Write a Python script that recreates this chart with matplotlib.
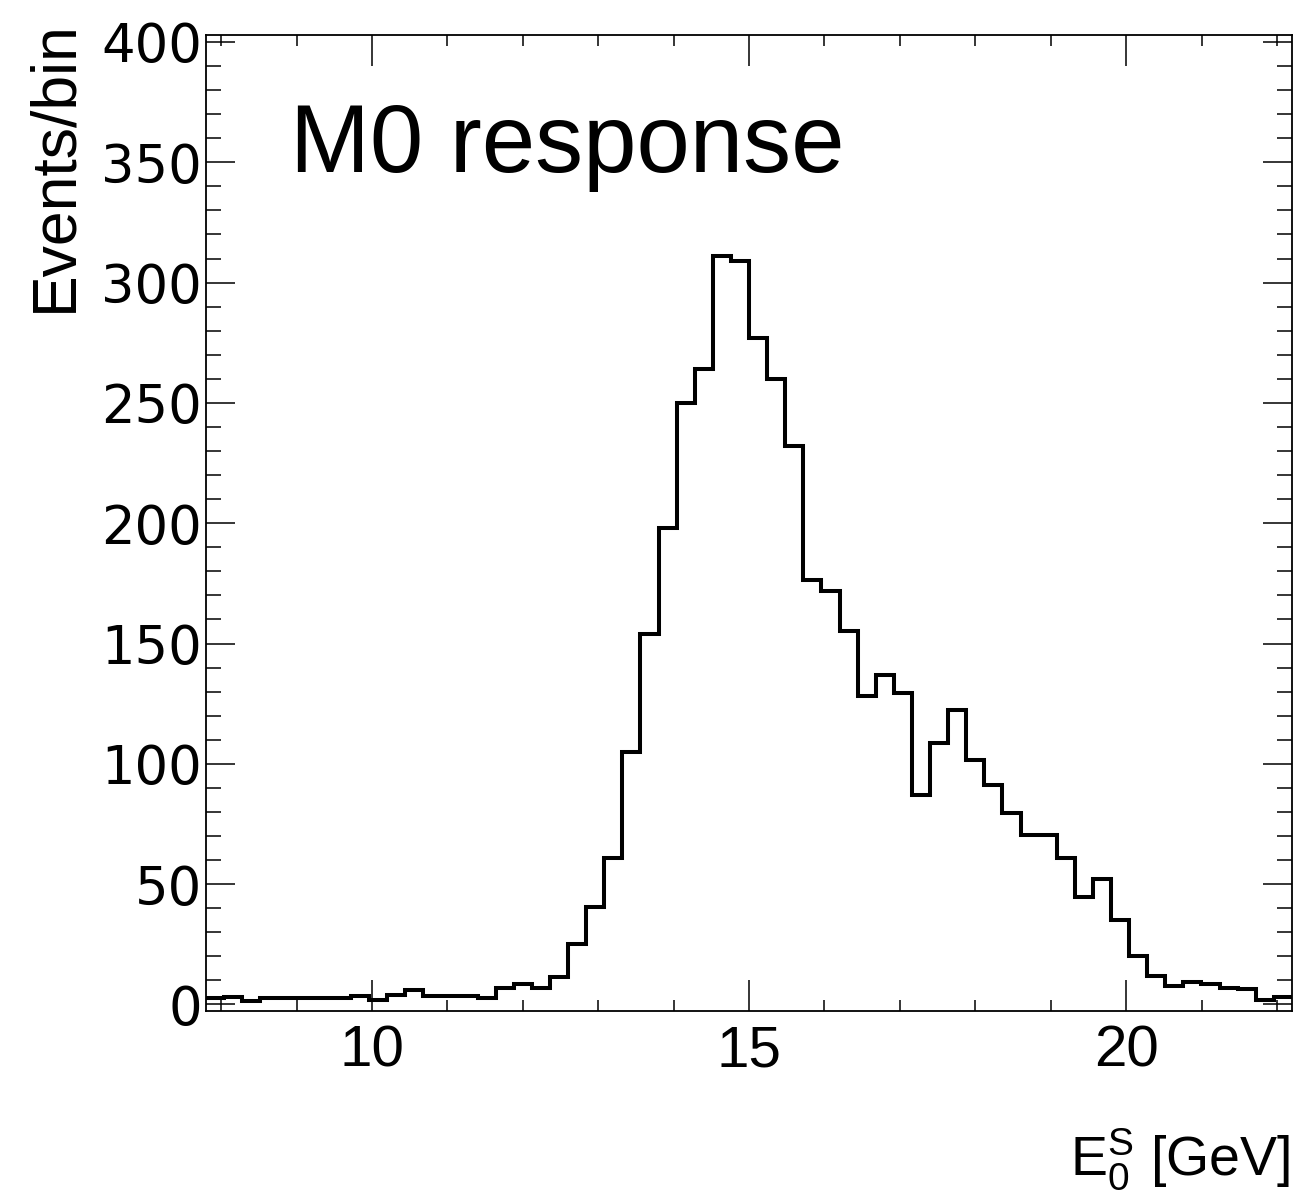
import numpy as np
import matplotlib
matplotlib.use("Agg")
import matplotlib.pyplot as plt
from matplotlib.ticker import MultipleLocator
from matplotlib import font_manager

# ---- data ----
bin_low = 7.8
bin_high = 22.2
events = [2.5, 3, 1.5, 2.5, 2.5, 2.5, 2.5, 2.5, 3.5, 2,
          4, 6, 3.5, 3.5, 3.5, 2.5, 7, 8.5, 7, 11.5,
          25, 40.5, 61, 105, 154, 198, 250, 264, 311, 309,
          277, 260, 232, 176.5, 172, 155, 128, 137, 129.5, 87,
          108.5, 122.5, 101.5, 91, 79.5, 70.5, 70.5, 61, 44.5, 52,
          35, 20, 12, 7.5, 9.5, 8.5, 7, 6.3, 2, 3.3]
x_ticks = [10, 15, 20]
y_ticks = [0, 50, 100, 150, 200, 250, 300, 350, 400]
title_text = "M0 response"
y_title = "Events/bin"

plt.rcParams['font.family'] = ['Liberation Sans', 'DejaVu Sans']
plt.rcParams['mathtext.fontset'] = 'custom'
plt.rcParams['mathtext.rm'] = 'Liberation Sans'
plt.rcParams['mathtext.it'] = 'Liberation Sans'

installed = {f.name for f in font_manager.fontManager.ttflist}
narrow = 'Liberation Sans Narrow' if 'Liberation Sans Narrow' in installed else 'Liberation Sans'
narrow_size = 45 if narrow == 'Liberation Sans Narrow' else 42

W, H = 1301, 1200
fig = plt.figure(figsize=(W / 100, H / 100), dpi=100)
left = 206 / W
right = 1292 / W
bottom = 1 - 1010.7 / H
top = 1 - 35 / H
ax = fig.add_axes([left, bottom, right - left, top - bottom])

edges = np.linspace(bin_low, bin_high, len(events) + 1)
ax.stairs(events, edges, baseline=None, color='black', linewidth=2.9)

ax.set_xlim(bin_low, bin_high)
ax.set_ylim(-2.6, 402.9)

ax.set_xticks(x_ticks)
ax.set_xticklabels([str(v) for v in x_ticks])
ax.xaxis.set_minor_locator(MultipleLocator(1))
ax.set_yticks(y_ticks)
ax.set_yticklabels([str(v) for v in y_ticks])
ax.yaxis.set_minor_locator(MultipleLocator(10))

for s in ax.spines.values():
    s.set_linewidth(1.3)
    s.set_color('black')

ax.tick_params(axis='x', which='major', direction='in', length=22, width=1.1,
               top=True, bottom=True, pad=10)
ax.tick_params(axis='x', which='minor', direction='in', length=8, width=1.1,
               top=True, bottom=True)
ax.tick_params(axis='y', which='major', direction='in', length=21, width=1.1,
               left=True, right=True, pad=3)
ax.tick_params(axis='y', which='minor', direction='in', length=11, width=1.1,
               left=True, right=True)
for lab in ax.get_xticklabels():
    lab.set_fontfamily([narrow])
    lab.set_fontsize(narrow_size)
for lab in ax.get_yticklabels():
    lab.set_fontfamily(['DejaVu Sans'])
    lab.set_fontsize(38)

fig.text(290 / W, 1 - 172 / H, title_text, fontsize=69, ha='left', va='baseline')
fig.text(55 / W, 1 - 20 / H, y_title, fontsize=45, rotation=90, ha='center', va='top')
fig.text(1290 / W, 1 - 1176 / H, r'$\mathregular{E_0^S}$ [GeV]', fontsize=40,
         ha='right', va='baseline')

fig.savefig('out.png', dpi=100)
